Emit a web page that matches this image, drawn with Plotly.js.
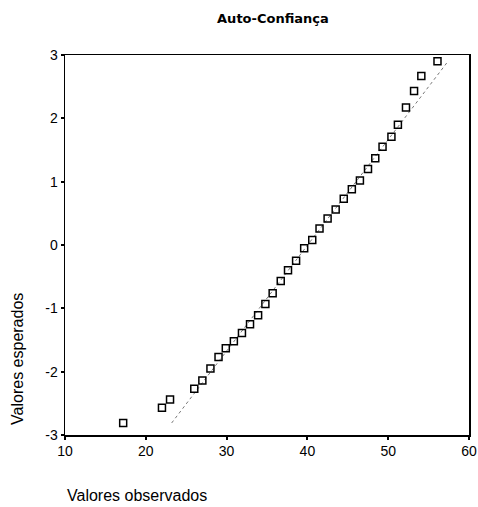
<!DOCTYPE html>
<html>
<head>
<meta charset="utf-8">
<script src="https://cdn.plot.ly/plotly-3.0.1.min.js"></script>
<style>html,body{margin:0;padding:0;background:#fff;}#chart{width:478px;height:507px;}</style>
</head>
<body>
<div id="chart"></div>
<script>
var observed = [17.2, 22.0, 23.0, 26.0, 27.0, 28.0, 29.0, 29.9, 30.9, 31.9, 32.9, 33.9, 34.8, 35.7, 36.7, 37.6, 38.6, 39.6, 40.6, 41.5, 42.5, 43.5, 44.5, 45.5, 46.5, 47.5, 48.4, 49.3, 50.4, 51.2, 52.2, 53.2, 54.1, 56.1];
var expected = [-2.81, -2.57, -2.44, -2.27, -2.14, -1.95, -1.77, -1.63, -1.52, -1.39, -1.25, -1.11, -0.93, -0.76, -0.57, -0.40, -0.25, -0.05, 0.08, 0.26, 0.42, 0.56, 0.73, 0.88, 1.02, 1.20, 1.37, 1.55, 1.71, 1.90, 2.17, 2.43, 2.67, 2.90];
var refLineX = [23.2, 57.4];
var refLineY = [-2.81, 2.90];
var xTicks = [10, 20, 30, 40, 50, 60];
var yTicks = [-3, -2, -1, 0, 1, 2, 3];

var traces = [
  {x: refLineX, y: refLineY, mode: 'lines', type: 'scatter',
   line: {color: '#555', width: 0.8, dash: 'dot'}, hoverinfo: 'skip'},
  {x: observed, y: expected, mode: 'markers', type: 'scatter',
   marker: {symbol: 'square-open', size: 7, color: '#000', line: {width: 1.5, color: '#000'}}}
];

var layout = {
  width: 478, height: 507,
  margin: {l: 65, r: 9, t: 55, b: 72},
  paper_bgcolor: '#fff', plot_bgcolor: '#fff',
  showlegend: false,
  font: {family: 'Liberation Sans, Arial, sans-serif', color: '#000', size: 14},
  title: {text: '<b>Auto-Confiança</b>', x: 0.571, xanchor: 'center', y: 0.964, yanchor: 'middle',
          font: {family: 'DejaVu Sans, sans-serif', size: 13, color: '#000'}},
  xaxis: {range: [10, 60], tickvals: xTicks, ticktext: xTicks.map(String),
          showgrid: false, zeroline: false, showline: true, mirror: true,
          linecolor: '#000', linewidth: 1.5, ticks: 'outside', ticklen: 3, tickwidth: 2,
          tickcolor: '#000', tickfont: {size: 14}},
  yaxis: {range: [-3, 3], tickvals: yTicks, ticktext: yTicks.map(String),
          showgrid: false, zeroline: false, showline: true, mirror: true,
          linecolor: '#000', linewidth: 1.5, ticks: 'outside', ticklen: 3, tickwidth: 2,
          tickcolor: '#000', tickfont: {size: 14}},
  annotations: [
    {text: 'Valores observados', xref: 'paper', yref: 'paper', x: 0.0, y: -0.158,
     xanchor: 'left', yanchor: 'middle', showarrow: false, font: {size: 16, color: '#000'}},
    {text: 'Valores esperados', xref: 'paper', yref: 'paper', x: -0.119, y: 0.2,
     xanchor: 'center', yanchor: 'middle', textangle: -90, showarrow: false,
     font: {size: 16, color: '#000'}}
  ]
};

Plotly.newPlot('chart', traces, layout, {displayModeBar: false, staticPlot: true});
</script>
</body>
</html>
